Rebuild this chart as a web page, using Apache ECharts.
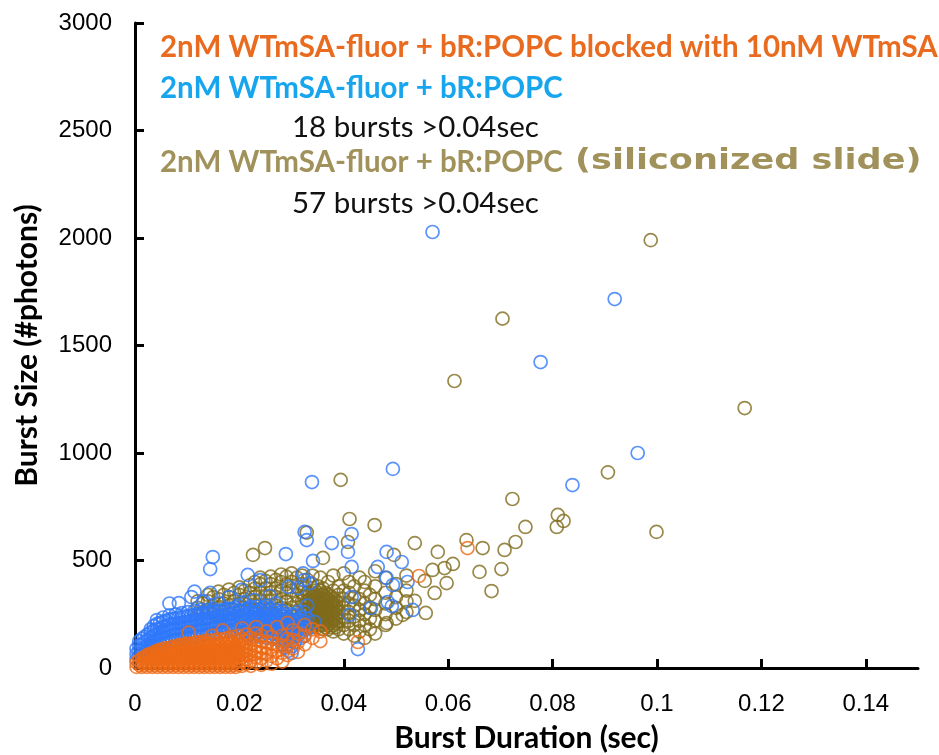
<!DOCTYPE html>
<html>
<head>
<meta charset="utf-8">
<script src="https://cdn.jsdelivr.net/npm/echarts@6/dist/echarts.min.js"></script>
<style>
  html, body { margin: 0; padding: 0; background: #fff; }
  #chart { width: 939px; height: 755px; }
</style>
</head>
<body>
<div id="chart"></div>
<script>
// tick values on the axes
const xTicks = [0, 0.02, 0.04, 0.06, 0.08, 0.1, 0.12, 0.14];
const yTicks = [0, 500, 1000, 1500, 2000, 2500, 3000];

// series names / annotation text
const seriesNames = [
  "2nM WTmSA-fluor + bR:POPC blocked with 10nM WTmSA",
  "2nM WTmSA-fluor + bR:POPC",
  "2nM WTmSA-fluor + bR:POPC (siliconized slide)"
];
const burstNotes = ["18 bursts >0.04sec", "57 bursts >0.04sec"];

// [duration (sec), size (#photons)]
const blockedData = [
  [0.0003,5],[0.0003,25],[0.0008,15],[0.0008,35],
  [0.0013,5],[0.0013,25],[0.0013,45],[0.0018,15],[0.0018,35],[0.0018,50],
  [0.0023,5],[0.0023,25],[0.0023,45],[0.0023,60],[0.0028,15],[0.0028,35],[0.0028,55],[0.0028,65],
  [0.0033,5],[0.0033,25],[0.0033,45],[0.0033,65],[0.0038,15],[0.0038,35],[0.0038,55],[0.0038,75],
  [0.0043,5],[0.0043,25],[0.0043,45],[0.0043,65],[0.0043,80],
  [0.0048,15],[0.0048,35],[0.0048,55],[0.0048,75],[0.0048,85],
  [0.0053,5],[0.0053,25],[0.0053,45],[0.0053,65],[0.0053,85],
  [0.0058,15],[0.0058,35],[0.0058,55],[0.0058,75],[0.0058,92],
  [0.0063,5],[0.0063,25],[0.0063,45],[0.0063,65],[0.0063,85],
  [0.0068,15],[0.0068,35],[0.0068,55],[0.0068,75],[0.0068,95],
  [0.0073,5],[0.0073,25],[0.0073,45],[0.0073,65],[0.0073,85],[0.0073,100],
  [0.0078,15],[0.0078,35],[0.0078,55],[0.0078,75],[0.0078,95],
  [0.0083,5],[0.0083,25],[0.0083,45],[0.0083,65],[0.0083,85],[0.0083,105],
  [0.0088,15],[0.0088,35],[0.0088,55],[0.0088,75],[0.0088,95],[0.0088,108],
  [0.0093,5],[0.0093,25],[0.0093,45],[0.0093,65],[0.0093,85],[0.0093,105],
  [0.0098,15],[0.0098,35],[0.0098,55],[0.0098,75],[0.0098,95],[0.0098,112],
  [0.0103,5],[0.0103,25],[0.0103,45],[0.0103,65],[0.0103,85],[0.0103,105],[0.0103,165],
  [0.0108,15],[0.0108,35],[0.0108,55],[0.0108,75],[0.0108,95],[0.0108,115],
  [0.0113,5],[0.0113,25],[0.0113,45],[0.0113,65],[0.0113,85],[0.0113,105],
  [0.0118,15],[0.0118,35],[0.0118,55],[0.0118,75],[0.0118,95],[0.0118,118],
  [0.0123,5],[0.0123,25],[0.0123,45],[0.0123,65],[0.0123,85],[0.0123,105],[0.0123,120],
  [0.0128,15],[0.0128,35],[0.0128,55],[0.0128,75],[0.0128,95],[0.0128,115],
  [0.0133,5],[0.0133,25],[0.0133,45],[0.0133,65],[0.0133,85],[0.0133,105],[0.0133,125],
  [0.0138,15],[0.0138,35],[0.0138,55],[0.0138,75],[0.0138,95],[0.0138,115],
  [0.0143,5],[0.0143,25],[0.0143,45],[0.0143,65],[0.0143,85],[0.0143,105],[0.0143,128],
  [0.0148,15],[0.0148,35],[0.0148,55],[0.0148,75],[0.0148,95],[0.0148,115],[0.0148,150],
  [0.0153,5],[0.0153,25],[0.0153,45],[0.0153,65],[0.0153,85],[0.0153,105],[0.0153,130],
  [0.0158,15],[0.0158,35],[0.0158,55],[0.0158,75],[0.0158,95],[0.0158,115],
  [0.0163,5],[0.0163,25],[0.0163,45],[0.0163,65],[0.0163,85],[0.0163,105],[0.0163,133],
  [0.0168,15],[0.0168,35],[0.0168,55],[0.0168,75],[0.0168,95],[0.0168,115],[0.0168,175],
  [0.0173,5],[0.0173,25],[0.0173,45],[0.0173,65],[0.0173,85],[0.0173,105],[0.0173,135],
  [0.0178,15],[0.0178,35],[0.0178,55],[0.0178,75],[0.0178,95],[0.0178,115],[0.0178,140],
  [0.0183,5],[0.0183,25],[0.0183,45],[0.0183,65],[0.0183,85],[0.0183,105],[0.0183,125],
  [0.0188,15],[0.0188,35],[0.0188,55],[0.0188,75],[0.0188,95],[0.0188,115],[0.0188,145],
  [0.0193,5],[0.0193,25],[0.0193,45],[0.0193,65],[0.0193,85],[0.0193,105],[0.0193,130],
  [0.0198,15],[0.0198,35],[0.0198,55],[0.0198,75],[0.0198,95],[0.0198,115],[0.0198,150],
  [0.0205,10],[0.0205,30],[0.0205,50],[0.0205,70],[0.0205,90],[0.0205,110],[0.0205,135],[0.0205,185],
  [0.0213,20],[0.0213,40],[0.0213,60],[0.0213,80],[0.0213,100],[0.0213,125],[0.0213,155],
  [0.0222,10],[0.0222,35],[0.0222,60],[0.0222,85],[0.0222,110],[0.0222,140],
  [0.0232,25],[0.0232,50],[0.0232,75],[0.0232,100],[0.0232,130],[0.0232,160],[0.0232,190],
  [0.0242,15],[0.0242,45],[0.0242,70],[0.0242,95],[0.0242,125],[0.0242,150],
  [0.0252,35],[0.0252,65],[0.0252,95],[0.0252,120],[0.0252,170],
  [0.0262,20],[0.0262,55],[0.0262,85],[0.0262,115],[0.0262,145],
  [0.0272,45],[0.0272,80],[0.0272,110],[0.0272,190],
  [0.0282,30],[0.0282,70],[0.0282,105],[0.0282,150],
  [0.0292,60],[0.0292,100],[0.0292,135],[0.0292,210],
  [0.0302,90],[0.0302,130],[0.0302,175],
  [0.0312,75],[0.0312,120],[0.0312,160],
  [0.0325,110],[0.0325,150],[0.0325,200],
  [0.0340,140],[0.0340,180],[0.0355,125],[0.0355,170],
  [0.0427,121],[0.0544,428],[0.0637,558]
];

const popcData = [
  [0.0003,40],[0.0003,65],[0.0003,90],
  [0.0008,55],[0.0008,80],[0.0008,105],[0.0008,125],
  [0.0013,60],[0.0013,85],[0.0013,110],[0.0013,135],
  [0.0018,70],[0.0018,95],[0.0018,120],[0.0018,145],
  [0.0024,80],[0.0024,105],[0.0024,130],[0.0024,155],
  [0.0030,90],[0.0030,115],[0.0030,140],[0.0030,165],[0.0030,180],
  [0.0036,100],[0.0036,125],[0.0036,150],[0.0036,175],[0.0036,195],
  [0.0042,105],[0.0042,130],[0.0042,155],[0.0042,180],[0.0042,205],[0.0042,223],
  [0.0048,110],[0.0048,135],[0.0048,160],[0.0048,185],[0.0048,210],
  [0.0054,115],[0.0054,140],[0.0054,165],[0.0054,190],[0.0054,215],[0.0054,235],
  [0.0060,120],[0.0060,145],[0.0060,170],[0.0060,195],[0.0060,220],
  [0.0066,125],[0.0066,150],[0.0066,175],[0.0066,200],[0.0066,225],[0.0066,245],[0.0066,300],
  [0.0072,130],[0.0072,155],[0.0072,180],[0.0072,205],[0.0072,230],
  [0.0078,130],[0.0078,155],[0.0078,180],[0.0078,205],[0.0078,230],[0.0078,250],
  [0.0084,135],[0.0084,160],[0.0084,185],[0.0084,210],[0.0084,235],[0.0084,302],
  [0.0090,135],[0.0090,160],[0.0090,185],[0.0090,210],[0.0090,235],[0.0090,255],
  [0.0096,140],[0.0096,165],[0.0096,190],[0.0096,215],[0.0096,240],
  [0.0102,140],[0.0102,165],[0.0102,190],[0.0102,215],[0.0102,240],[0.0102,260],
  [0.0108,145],[0.0108,170],[0.0108,195],[0.0108,220],[0.0108,245],[0.0108,330],
  [0.0114,145],[0.0114,170],[0.0114,195],[0.0114,220],[0.0114,245],[0.0114,265],[0.0114,355],
  [0.0120,150],[0.0120,175],[0.0120,200],[0.0120,225],[0.0120,250],
  [0.0126,150],[0.0126,175],[0.0126,200],[0.0126,225],[0.0126,250],[0.0126,270],
  [0.0132,155],[0.0132,180],[0.0132,205],[0.0132,230],[0.0132,255],[0.0132,310],
  [0.0138,155],[0.0138,180],[0.0138,205],[0.0138,230],[0.0138,255],[0.0138,270],
  [0.0144,160],[0.0144,185],[0.0144,210],[0.0144,235],[0.0144,260],[0.0144,349],
  [0.0150,160],[0.0150,185],[0.0150,210],[0.0150,235],[0.0150,260],[0.0150,275],
  [0.0156,165],[0.0156,190],[0.0156,215],[0.0156,240],[0.0156,265],
  [0.0162,165],[0.0162,190],[0.0162,215],[0.0162,240],[0.0162,265],[0.0162,300],
  [0.0168,170],[0.0168,195],[0.0168,220],[0.0168,245],[0.0168,270],
  [0.0174,170],[0.0174,195],[0.0174,220],[0.0174,245],[0.0174,270],
  [0.0180,175],[0.0180,200],[0.0180,225],[0.0180,250],[0.0180,275],[0.0180,330],
  [0.0186,175],[0.0186,200],[0.0186,225],[0.0186,250],[0.0186,275],
  [0.0192,180],[0.0192,205],[0.0192,230],[0.0192,255],[0.0192,280],
  [0.0198,165],[0.0198,190],[0.0198,215],[0.0198,240],[0.0198,265],[0.0198,290],
  [0.0204,165],[0.0204,190],[0.0204,215],[0.0204,240],[0.0204,265],[0.0204,363],
  [0.0210,170],[0.0210,195],[0.0210,220],[0.0210,245],[0.0210,270],[0.0210,300],
  [0.0216,150],[0.0216,175],[0.0216,200],[0.0216,225],[0.0216,250],[0.0216,275],[0.0216,433],
  [0.0222,160],[0.0222,185],[0.0222,210],[0.0222,235],[0.0222,260],[0.0222,285],
  [0.0228,150],[0.0228,175],[0.0228,200],[0.0228,225],[0.0228,250],[0.0228,275],[0.0228,316],
  [0.0234,160],[0.0234,185],[0.0234,210],[0.0234,235],[0.0234,260],[0.0234,285],
  [0.0240,145],[0.0240,170],[0.0240,195],[0.0240,220],[0.0240,245],[0.0240,270],[0.0240,409],
  [0.0246,155],[0.0246,180],[0.0246,205],[0.0246,230],[0.0246,255],[0.0246,280],
  [0.0252,140],[0.0252,165],[0.0252,190],[0.0252,215],[0.0252,240],[0.0252,265],[0.0252,290],
  [0.0258,150],[0.0258,175],[0.0258,200],[0.0258,225],[0.0258,250],[0.0258,275],[0.0258,335],
  [0.0264,135],[0.0264,160],[0.0264,185],[0.0264,210],[0.0264,235],[0.0264,260],
  [0.0270,145],[0.0270,170],[0.0270,195],[0.0270,220],[0.0270,245],[0.0270,270],[0.0270,300],
  [0.0276,130],[0.0276,155],[0.0276,180],[0.0276,205],[0.0276,230],[0.0276,255],
  [0.0282,110],[0.0282,140],[0.0282,165],[0.0282,190],[0.0282,215],[0.0282,240],[0.0282,265],
  [0.0288,95],[0.0288,125],[0.0288,150],[0.0288,175],[0.0288,200],[0.0288,225],[0.0288,250],
  [0.0294,80],[0.0294,110],[0.0294,135],[0.0294,160],[0.0294,185],[0.0294,210],[0.0294,235],[0.0294,377],
  [0.0300,70],[0.0300,100],[0.0300,125],[0.0300,150],[0.0300,175],[0.0300,200],[0.0300,225],[0.0300,250],
  [0.0306,120],[0.0306,145],[0.0306,170],[0.0306,195],[0.0306,220],[0.0306,245],
  [0.0312,150],[0.0312,175],[0.0312,200],[0.0312,225],[0.0312,260],[0.0312,372],
  [0.0318,140],[0.0318,170],[0.0318,200],[0.0318,235],
  [0.0324,149],[0.0324,180],[0.0324,215],[0.0324,260],[0.0324,409],
  [0.0330,180],[0.0330,230],[0.0330,290],[0.0344,214],
  [0.0149,516],[0.0144,460],[0.0325,633],[0.0329,595],[0.0415,623],
  [0.0377,581],[0.0408,540],[0.0289,530],[0.0341,498],[0.0482,540],
  [0.0511,493],[0.0465,470],[0.0415,470],[0.0494,386],[0.0482,419],
  [0.0522,400],[0.0532,270],[0.0484,307],[0.0452,279],[0.0415,330],
  [0.0411,247],[0.0427,88],[0.0322,440],[0.0335,395],[0.0492,288],
  [0.0339,865],[0.0494,926],[0.0570,2028],[0.0919,1716],[0.0777,1423],
  [0.0963,1000],[0.0838,851]
];

const siliconData = [
  [0.012,240],[0.012,280],[0.012,310],[0.013,260],[0.013,300],
  [0.014,230],[0.014,270],[0.014,310],[0.014,340],[0.015,250],[0.015,290],[0.015,330],
  [0.016,240],[0.016,280],[0.016,320],[0.016,355],[0.017,260],[0.017,300],[0.017,340],
  [0.018,250],[0.018,290],[0.018,330],[0.018,365],[0.019,270],[0.019,310],[0.019,350],
  [0.020,260],[0.020,300],[0.020,340],[0.020,375],[0.021,280],[0.021,320],[0.021,360],
  [0.022,270],[0.022,310],[0.022,350],[0.022,385],
  [0.023,250],[0.023,290],[0.023,330],[0.023,370],[0.023,400],
  [0.024,270],[0.024,310],[0.024,350],[0.024,390],[0.024,420],
  [0.025,250],[0.025,290],[0.025,330],[0.025,370],[0.025,405],
  [0.026,230],[0.026,270],[0.026,310],[0.026,350],[0.026,390],[0.026,425],
  [0.027,250],[0.027,290],[0.027,330],[0.027,370],[0.027,410],
  [0.028,210],[0.028,240],[0.028,280],[0.028,320],[0.028,360],[0.028,400],[0.028,435],
  [0.029,230],[0.029,270],[0.029,310],[0.029,350],[0.029,390],[0.029,425],
  [0.030,200],[0.030,240],[0.030,280],[0.030,320],[0.030,360],[0.030,400],[0.030,440],
  [0.031,220],[0.031,260],[0.031,300],[0.031,340],[0.031,380],[0.031,420],
  [0.032,190],[0.032,230],[0.032,270],[0.032,310],[0.032,350],[0.032,390],[0.032,430],
  [0.0325,210],[0.0325,250],[0.0325,290],[0.0325,330],[0.0325,370],
  [0.033,190],[0.033,230],[0.033,270],[0.033,310],[0.033,350],[0.033,410],
  [0.0335,200],[0.0335,220],[0.0335,240],[0.0335,260],[0.0335,280],[0.0335,300],[0.0335,320],[0.0335,340],
  [0.034,190],[0.034,210],[0.034,230],[0.034,250],[0.034,270],[0.034,290],[0.034,310],[0.034,330],[0.034,350],[0.034,390],[0.034,430],
  [0.0345,200],[0.0345,220],[0.0345,240],[0.0345,260],[0.0345,280],[0.0345,300],[0.0345,320],[0.0345,340],[0.0345,360],
  [0.035,190],[0.035,210],[0.035,230],[0.035,250],[0.035,270],[0.035,290],[0.035,310],[0.035,330],[0.035,350],[0.035,380],
  [0.0355,200],[0.0355,220],[0.0355,240],[0.0355,260],[0.0355,280],[0.0355,300],[0.0355,320],[0.0355,340],[0.0355,360],[0.0355,420],
  [0.036,180],[0.036,200],[0.036,220],[0.036,240],[0.036,260],[0.036,280],[0.036,300],[0.036,320],[0.036,340],[0.036,370],
  [0.0365,190],[0.0365,210],[0.0365,230],[0.0365,250],[0.0365,270],[0.0365,290],[0.0365,310],[0.0365,330],[0.0365,350],
  [0.037,180],[0.037,200],[0.037,220],[0.037,240],[0.037,260],[0.037,280],[0.037,300],[0.037,320],[0.037,340],[0.037,400],
  [0.0375,190],[0.0375,210],[0.0375,230],[0.0375,250],[0.0375,270],[0.0375,290],[0.0375,310],[0.0375,330],
  [0.038,170],[0.038,200],[0.038,220],[0.038,240],[0.038,260],[0.038,280],[0.038,300],[0.038,320],[0.038,360],[0.038,430],
  [0.0385,190],[0.0385,210],[0.0385,230],[0.0385,250],[0.0385,270],[0.0385,290],[0.0385,310],
  [0.039,180],[0.039,220],[0.039,260],[0.039,300],[0.039,340],[0.039,380],
  [0.040,160],[0.040,200],[0.040,240],[0.040,280],[0.040,320],[0.040,360],[0.040,440],
  [0.041,180],[0.041,220],[0.041,260],[0.041,300],[0.041,350],[0.041,400],
  [0.042,150],[0.042,200],[0.042,240],[0.042,290],[0.042,330],[0.042,380],
  [0.043,170],[0.043,220],[0.043,270],[0.043,320],[0.043,420],
  [0.044,140],[0.044,200],[0.044,250],[0.044,300],[0.044,360],[0.044,400],
  [0.045,180],[0.045,230],[0.045,280],[0.045,340],
  [0.046,160],[0.046,220],[0.046,270],[0.046,320],[0.046,380],[0.046,450],
  [0.048,200],[0.048,250],[0.048,300],[0.048,350],[0.048,420],
  [0.050,230],[0.050,280],[0.050,330],[0.050,390],
  [0.052,260],[0.052,310],[0.052,360],[0.052,430],
  [0.0988,1990],[0.0704,1625],[0.0612,1335],[0.1168,1209],[0.0999,633],
  [0.0394,875],[0.0906,910],[0.0723,786],[0.0810,712],[0.0821,684],
  [0.0808,656],[0.0748,656],[0.0729,586],[0.0708,549],[0.0666,558],
  [0.0702,460],[0.0660,447],[0.0683,358],[0.0411,693],[0.0459,665],
  [0.0408,586],[0.0536,581],[0.0635,595],[0.0580,540],[0.0609,484],
  [0.0593,465],[0.0496,526],[0.0360,512],[0.0570,456],[0.0597,395],
  [0.0574,349],[0.0555,405],[0.0536,312],[0.0557,256],[0.0482,209],
  [0.0513,247],[0.0226,526],[0.0249,558],[0.0329,630]
];

const chart = echarts.init(document.getElementById("chart"));

function hollow(name, data, color) {
  return {
    name: name,
    type: "scatter",
    data: data,
    symbol: "circle",
    symbolSize: 13,
    itemStyle: { color: "rgba(0,0,0,0)", borderColor: color, borderWidth: 1.7 },
    emphasis: { disabled: true },
    silent: true
  };
}

const axisFont = { color: "#000", fontFamily: "Liberation Sans", fontSize: 24 };
const titleFont = { color: "#000", fontFamily: "Lato", fontWeight: "bold" };
const noteFont = "29.5px Lato";
const noteBold = "bold 29.5px Lato";

// the siliconized line: prefix shared with the blue line, suffix set wider as in the picture
const siliconPrefix = "2nM WTmSA-fluor + bR:POPC";
const siliconSuffix = "(siliconized slide)";

chart.setOption({
  animation: false,
  grid: { left: 135, right: 21, top: 23, bottom: 87, outerBoundsMode: "none" },
  xAxis: {
    type: "value",
    min: 0,
    max: 0.15,
    interval: 0.02,
    name: "Burst Duration (sec)",
    nameLocation: "middle",
    nameGap: 55,
    nameTextStyle: Object.assign({ fontSize: 30 }, titleFont),
    splitLine: { show: false },
    axisLine: { lineStyle: { color: "#000", width: 3 } },
    axisTick: { inside: true, length: 9, lineStyle: { color: "#000", width: 3 }, customValues: xTicks },
    axisLabel: Object.assign({ margin: 24, customValues: xTicks, formatter: v => String(+v.toFixed(2)) }, axisFont)
  },
  yAxis: {
    type: "value",
    min: 0,
    max: 3000,
    interval: 500,
    name: "Burst Size (#photons)",
    nameLocation: "middle",
    nameGap: 93,
    nameTextStyle: Object.assign({ fontSize: 30 }, titleFont),
    splitLine: { show: false },
    axisLine: { lineStyle: { color: "#000", width: 3 } },
    axisTick: { inside: true, length: 9, lineStyle: { color: "#000", width: 3 }, customValues: yTicks },
    axisLabel: Object.assign({ margin: 23, customValues: yTicks, formatter: v => String(v) }, axisFont)
  },
  graphic: [
    { type: "text", x: 160, y: 47, style: { text: seriesNames[0], fill: "#E96B1F", font: noteBold, verticalAlign: "middle" } },
    { type: "text", x: 160, y: 88, style: { text: seriesNames[1], fill: "#17A6EE", font: noteBold, verticalAlign: "middle" } },
    { type: "text", x: 292, y: 127, style: { text: burstNotes[0], fill: "#111", font: noteFont, verticalAlign: "middle" } },
    { type: "text", x: 160, y: 162, style: { text: siliconPrefix, fill: "#A0925A", font: noteBold, verticalAlign: "middle" } },
    { type: "text", x: 575, y: 162, scaleX: 1.17, scaleY: 0.93,
      style: { text: siliconSuffix, fill: "#A0925A", font: "bold 30px 'DejaVu Sans'", verticalAlign: "middle" } },
    { type: "text", x: 292, y: 203, style: { text: burstNotes[1], fill: "#111", font: noteFont, verticalAlign: "middle" } }
  ],
  series: [
    hollow(seriesNames[2], siliconData, "#806C1B"),
    hollow(seriesNames[1], popcData, "#2F78FA"),
    hollow(seriesNames[0], blockedData, "#EE6A15")
  ]
});
</script>
</body>
</html>
